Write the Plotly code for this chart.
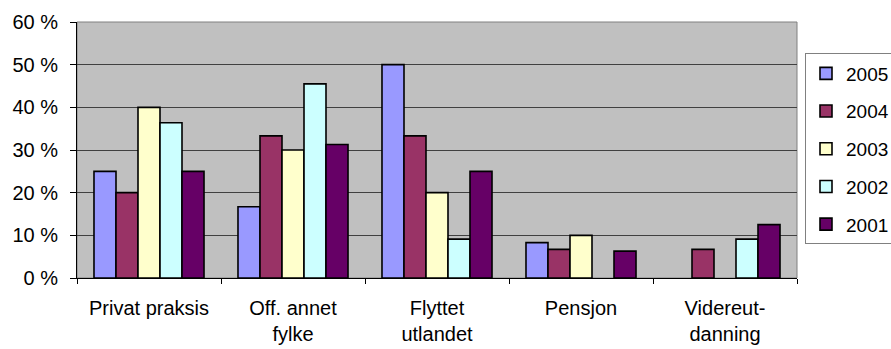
import plotly.graph_objects as go

categories = ["Privat praksis", "Off. annet<br>fylke", "Flyttet<br>utlandet", "Pensjon", "Videreut-<br>danning"]
years = ["2005", "2004", "2003", "2002", "2001"]
v2005 = [25.0, 16.7, 50.0, 8.3, None]
v2004 = [20.0, 33.3, 33.3, 6.7, 6.7]
v2003 = [40.0, 30.0, 20.0, 10.0, None]
v2002 = [36.4, 45.5, 9.1, None, 9.1]
v2001 = [25.0, 31.3, 25.0, 6.3, 12.5]
series = [v2005, v2004, v2003, v2002, v2001]
colors = ["#9999FF", "#993366", "#FFFFCC", "#CCFFFF", "#660066"]
y_ticks = [0, 10, 20, 30, 40, 50, 60]

FONT = "Liberation Sans, Arial, sans-serif"

fig = go.Figure()
for name, vals, col in zip(years, series, colors):
    fig.add_trace(go.Bar(
        x=categories, y=vals, name=name, legendgroup=name,
        marker=dict(color=col, line=dict(color="#000000", width=1.6)),
    ))

fig.update_layout(
    width=891, height=349, autosize=False,
    margin=dict(l=77, r=94, t=21.5, b=71.3, pad=0, autoexpand=False),
    paper_bgcolor="#FFFFFF", plot_bgcolor="#C0C0C0",
    barmode="group", bargap=0.236, bargroupgap=0,
    font=dict(family=FONT, size=20, color="#000000"),
    showlegend=True,
    legend=dict(
        x=(805 - 77) / 720, xanchor="left", y=(277.7 - 53) / 256.2, yanchor="top",
        bgcolor="#FFFFFF", bordercolor="#808080", borderwidth=1,
        font=dict(family=FONT, size=19, color="#000000"),
        tracegroupgap=10, traceorder="grouped",
    ),
)

fig.update_xaxes(
    type="category", showgrid=False, showline=True, linecolor="#000000", linewidth=1,
    ticks="outside", tickson="boundaries", ticklen=5, tickcolor="#000000",
    tickfont=dict(family=FONT, size=20), ticklabelstandoff=12,
    mirror=False, zeroline=False,
)
fig.update_yaxes(
    range=[0, 60], tickvals=y_ticks, ticktext=[f"{v} %" for v in y_ticks],
    showgrid=True, gridcolor="#404040", gridwidth=1,
    showline=True, linecolor="#000000", linewidth=1,
    ticks="outside", ticklen=6, tickcolor="#000000",
    tickfont=dict(family=FONT, size=20), ticklabelstandoff=8,
    zeroline=False,
)
# grey plot-area border on top and right
fig.add_shape(type="rect", xref="paper", yref="paper", x0=0, x1=1, y0=0, y1=1,
              line=dict(color="#808080", width=1), fillcolor="rgba(0,0,0,0)", layer="below")

fig.write_html("out.html")
